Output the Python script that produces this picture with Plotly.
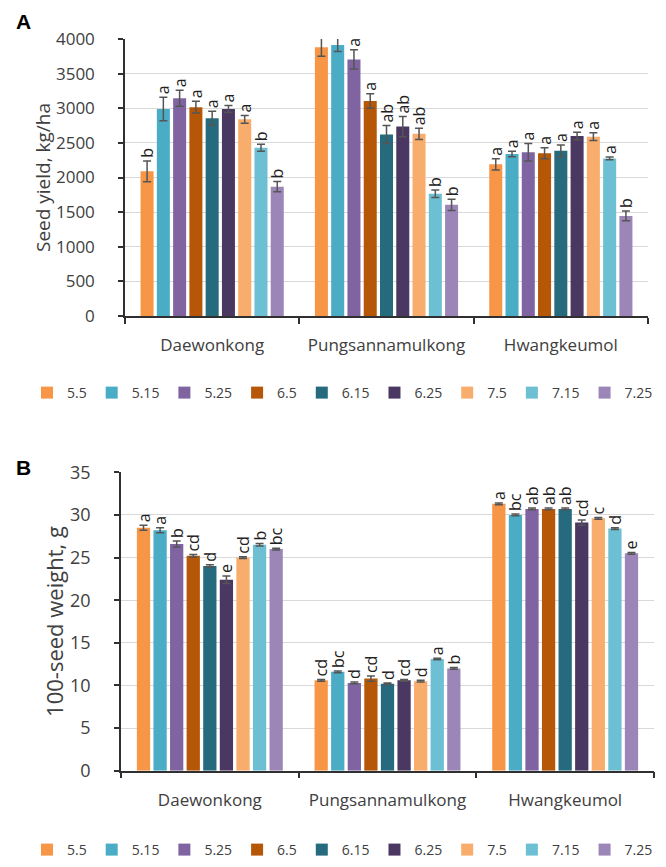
import plotly.graph_objects as go

cultivars = ["Daewonkong", "Pungsannamulkong", "Hwangkeumol"]
dates = ["5.5", "5.15", "5.25", "6.5", "6.15", "6.25", "7.5", "7.15", "7.25"]
colors = ["#F79646", "#4BACC6", "#8064A2", "#B65708", "#266B7D",
          "#4A3863", "#F9AD6D", "#6DBFD3", "#9C86B8"]

# Panel A: seed yield (kg/ha), per date: [Daewonkong, Pungsannamulkong, Hwangkeumol]
yield_vals = {
    "5.5":  [2090, 3880, 2190],
    "5.15": [2990, 3915, 2340],
    "5.25": [3145, 3705, 2365],
    "6.5":  [3015, 3105, 2350],
    "6.15": [2855, 2620, 2385],
    "6.25": [2990, 2735, 2600],
    "7.5":  [2840, 2630, 2590],
    "7.15": [2430, 1765, 2275],
    "7.25": [1868, 1605, 1445],
}
yield_err = {
    "5.5":  [150, 130, 80],
    "5.15": [170, 95, 40],
    "5.25": [115, 140, 125],
    "6.5":  [85, 105, 80],
    "6.15": [100, 130, 85],
    "6.25": [50, 145, 55],
    "7.5":  [55, 80, 55],
    "7.15": [50, 55, 20],
    "7.25": [75, 80, 70],
}
yield_letters = {
    "5.5":  ["b", "a", "a"],
    "5.15": ["a", "a", "a"],
    "5.25": ["a", "a", "a"],
    "6.5":  ["a", "a", "a"],
    "6.15": ["a", "ab", "a"],
    "6.25": ["a", "ab", "a"],
    "7.5":  ["a", "ab", "a"],
    "7.15": ["b", "b", "a"],
    "7.25": ["b", "b", "b"],
}

# Panel B: 100-seed weight (g)
weight_vals = {
    "5.5":  [28.5, 10.6, 31.3],
    "5.15": [28.2, 11.6, 30.0],
    "5.25": [26.6, 10.3, 30.7],
    "6.5":  [25.2, 10.8, 30.7],
    "6.15": [24.0, 10.2, 30.7],
    "6.25": [22.4, 10.6, 29.1],
    "7.5":  [25.0, 10.5, 29.6],
    "7.15": [26.5, 13.1, 28.4],
    "7.25": [26.0, 12.0, 25.5],
}
weight_err = {
    "5.5":  [0.3, 0.1, 0.1],
    "5.15": [0.3, 0.1, 0.1],
    "5.25": [0.35, 0.1, 0.1],
    "6.5":  [0.15, 0.3, 0.1],
    "6.15": [0.15, 0.1, 0.1],
    "6.25": [0.45, 0.1, 0.3],
    "7.5":  [0.1, 0.1, 0.1],
    "7.15": [0.15, 0.1, 0.1],
    "7.25": [0.1, 0.1, 0.1],
}
weight_letters = {
    "5.5":  ["a", "cd", "a"],
    "5.15": ["a", "bc", "bc"],
    "5.25": ["b", "d", "ab"],
    "6.5":  ["cd", "cd", "ab"],
    "6.15": ["d", "d", "ab"],
    "6.25": ["e", "cd", "cd"],
    "7.5":  ["cd", "d", "c"],
    "7.15": ["b", "a", "d"],
    "7.25": ["bc", "b", "e"],
}

FONT = "Open Sans"
TXT = "#404040"
W, H = 666, 867
OFF = 8  # page body margin offset


def fx(px):
    return (px - OFF) / W


def fy(py):
    return 1 - (py - OFF) / H


fig = go.Figure()


def add_panel(vals, errs, letters, xa, ya, legend):
    for i, d in enumerate(dates):
        fig.add_trace(go.Bar(
            x=cultivars, y=vals[d], name=d, marker_color=colors[i],
            marker_line_width=0, offsetgroup=str(i),
            error_y=dict(type="data", array=errs[d], color="#555555",
                         thickness=1.5, width=4),
            xaxis=xa, yaxis=ya, legend=legend, hoverinfo="skip",
        ))
    for i, d in enumerate(dates):
        tops = [v + e for v, e in zip(vals[d], errs[d])]
        fig.add_trace(go.Bar(
            x=cultivars, y=tops, name=d, marker_color="rgba(0,0,0,0)",
            marker_line_width=0, offsetgroup=str(i),
            text=letters[d], textposition="outside", textangle=-90,
            constraintext="none", cliponaxis=False,
            textfont=dict(family=FONT, size=16, color="#202020"),
            xaxis=xa, yaxis=ya, showlegend=False, hoverinfo="skip",
        ))


add_panel(yield_vals, yield_err, yield_letters, "x", "y", "legend")
add_panel(weight_vals, weight_err, weight_letters, "x2", "y2", "legend2")

xcommon = dict(type="category", showgrid=False, showline=True, linecolor="#303030",
               linewidth=1.5, ticks="outside", tickson="boundaries", ticklen=6,
               tickcolor="#303030", tickwidth=1.5, automargin=False,
               tickfont=dict(family=FONT, size=17, color=TXT),
               ticklabelstandoff=13)
ycommon = dict(showgrid=True, gridcolor="#D9D9D9", gridwidth=1, showline=True,
               linecolor="#303030", linewidth=1.5, ticks="outside", ticklen=5,
               tickcolor="#303030", tickwidth=1.5, zeroline=False,
               automargin=False, ticklabelstandoff=20)

legend_common = dict(orientation="h", x=fx(658), xanchor="right", yanchor="middle",
                     font=dict(family=FONT, size=14, color=TXT),
                     itemwidth=30, tracegroupgap=0)

fig.update_layout(
    width=W, height=H, margin=dict(l=0, r=0, t=0, b=0, autoexpand=False),
    paper_bgcolor="white", plot_bgcolor="white",
    barmode="group", bargap=0.16, bargroupgap=0.2,
    font=dict(family=FONT, color=TXT),
    xaxis=dict(domain=[fx(125), fx(648)], anchor="y", **xcommon),
    yaxis=dict(domain=[fy(316), fy(39)], anchor="x", range=[0, 4000], dtick=500,
               tickfont=dict(family=FONT, size=17, color=TXT),
               title=dict(text="Seed yield, kg/ha", standoff=0,
                          font=dict(family=FONT, size=19, color=TXT)),
               **ycommon),
    xaxis2=dict(domain=[fx(121), fx(654)], anchor="y2", **xcommon),
    yaxis2=dict(domain=[fy(770.7), fy(472.3)], anchor="x2", range=[0, 35], dtick=5,
                tickfont=dict(family=FONT, size=18, color=TXT),
                title=dict(text="100-seed weight, g", standoff=0,
                           font=dict(family=FONT, size=22, color=TXT)),
                **ycommon),
    legend=dict(y=fy(393), **legend_common),
    legend2=dict(y=fy(850), **legend_common),
    annotations=[
        dict(text="<b>A</b>", x=fx(14), y=fy(21), xref="paper", yref="paper",
             showarrow=False, xanchor="left", yanchor="middle",
             font=dict(family="Liberation Sans", size=21, color="black")),
        dict(text="<b>B</b>", x=fx(14), y=fy(467), xref="paper", yref="paper",
             showarrow=False, xanchor="left", yanchor="middle",
             font=dict(family="Liberation Sans", size=21, color="black")),
    ],
)

fig.write_html("out.html")
